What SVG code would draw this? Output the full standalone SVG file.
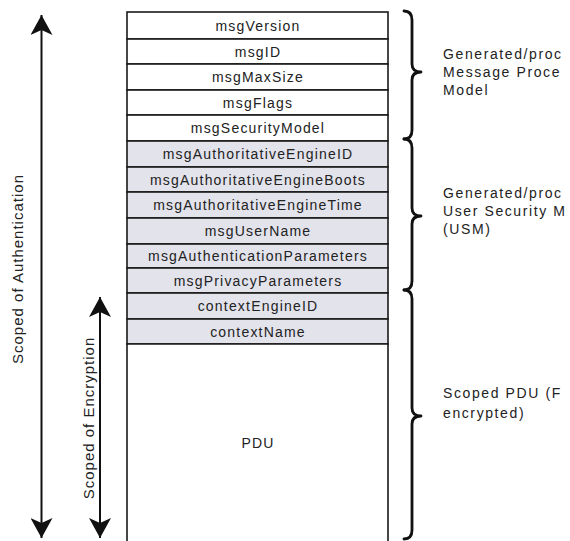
<svg xmlns="http://www.w3.org/2000/svg" width="570" height="541" viewBox="0 0 570 541">
  <style>
    .cell { stroke: #1a1a1a; stroke-width: 1.6; }
    .plain { fill: #ffffff; }
    .shaded { fill: #e3e3ec; }
    .lbl { font-family: "Liberation Sans", Arial, sans-serif; font-size: 14px; letter-spacing: 1.2px; fill: #222; text-anchor: middle; }
    .note { font-family: "Liberation Sans", Arial, sans-serif; font-size: 14px; letter-spacing: 1.6px; fill: #222; }
    .side { font-family: "Liberation Sans", Arial, sans-serif; font-size: 15px; letter-spacing: 1px; fill: #222; text-anchor: middle; }
    .brace { fill: none; stroke: #111; stroke-width: 2.8; stroke-linecap: round; stroke-linejoin: round; }
    .span { stroke: #111; stroke-width: 2; fill: none; }
  </style>
  <defs>
    <marker id="head" viewBox="0 0 20 22" refX="20" refY="11" markerWidth="20" markerHeight="22" markerUnits="userSpaceOnUse" orient="auto-start-reverse">
      <path d="M0,0 L20,11 L0,22 L5,11 Z" fill="#111"/>
    </marker>
  </defs>

  <rect width="570" height="541" fill="#ffffff"/>

  <!-- message fields -->
  <g id="msgVersion"><rect class="cell plain" x="127" y="12" width="261" height="27"/><text class="lbl" x="258" y="31">msgVersion</text></g>
  <g id="msgID"><rect class="cell plain" x="127" y="39" width="261" height="25"/><text class="lbl" x="258" y="56.5">msgID</text></g>
  <g id="msgMaxSize"><rect class="cell plain" x="127" y="64" width="261" height="26"/><text class="lbl" x="258" y="82">msgMaxSize</text></g>
  <g id="msgFlags"><rect class="cell plain" x="127" y="90" width="261" height="25"/><text class="lbl" x="258" y="107.5">msgFlags</text></g>
  <g id="msgSecurityModel"><rect class="cell plain" x="127" y="115" width="261" height="26"/><text class="lbl" x="258" y="133">msgSecurityModel</text></g>
  <g id="msgAuthoritativeEngineID"><rect class="cell shaded" x="127" y="141" width="261" height="26"/><text class="lbl" x="258" y="159">msgAuthoritativeEngineID</text></g>
  <g id="msgAuthoritativeEngineBoots"><rect class="cell shaded" x="127" y="167" width="261" height="25"/><text class="lbl" x="258" y="184.5">msgAuthoritativeEngineBoots</text></g>
  <g id="msgAuthoritativeEngineTime"><rect class="cell shaded" x="127" y="192" width="261" height="26"/><text class="lbl" x="258" y="210">msgAuthoritativeEngineTime</text></g>
  <g id="msgUserName"><rect class="cell shaded" x="127" y="218" width="261" height="26"/><text class="lbl" x="258" y="236">msgUserName</text></g>
  <g id="msgAuthenticationParameters"><rect class="cell shaded" x="127" y="244" width="261" height="24"/><text class="lbl" x="258" y="261">msgAuthenticationParameters</text></g>
  <g id="msgPrivacyParameters"><rect class="cell shaded" x="127" y="268" width="261" height="25"/><text class="lbl" x="258" y="285.5">msgPrivacyParameters</text></g>
  <g id="contextEngineID"><rect class="cell shaded" x="127" y="293" width="261" height="26"/><text class="lbl" x="258" y="311">contextEngineID</text></g>
  <g id="contextName"><rect class="cell shaded" x="127" y="319" width="261" height="25"/><text class="lbl" x="258" y="336.5">contextName</text></g>
  <g id="PDU"><path class="cell plain" d="M127,545 L127,344 L388,344 L388,545"/><text class="lbl" x="258" y="448">PDU</text></g>

  <!-- group braces and notes -->
  <g id="msgProcessing">
    <path class="brace" d="M404,11 Q412,11 412,20 L412,64 Q412,72 421,72 Q412,72 412,80 L412,130 Q412,139 404,139"/>
    <text class="note" x="443" y="59">Generated/proc</text>
    <text class="note" x="443" y="77">Message Proce</text>
    <text class="note" x="443" y="95">Model</text>
  </g>
  <g id="usm">
    <path class="brace" d="M404,139 Q412,139 412,148 L412,208 Q412,216 421,216 Q412,216 412,224 L412,281 Q412,290 404,290"/>
    <text class="note" x="443" y="198">Generated/proc</text>
    <text class="note" x="443" y="216">User Security M</text>
    <text class="note" x="443" y="234">(USM)</text>
  </g>
  <g id="scopedPDU">
    <path class="brace" d="M404,290 Q412,290 412,299 L412,408 Q412,416 421,416 Q412,416 412,424 L412,530 Q412,539 404,539"/>
    <text class="note" x="443" y="398">Scoped PDU (F</text>
    <text class="note" x="443" y="418">encrypted)</text>
  </g>

  <!-- scope arrows -->
  <g id="connectors">
    <line class="span" x1="41.5" y1="15" x2="41.5" y2="538" marker-start="url(#head)" marker-end="url(#head)"/>
    <line class="span" x1="100" y1="297" x2="100" y2="538" marker-start="url(#head)" marker-end="url(#head)"/>
  </g>
  <g id="authScope"><text class="side" transform="translate(23,269) rotate(-90)">Scoped of Authentication</text></g>
  <g id="encScope"><text class="side" transform="translate(94,418) rotate(-90)">Scoped of Encryption</text></g>
</svg>
